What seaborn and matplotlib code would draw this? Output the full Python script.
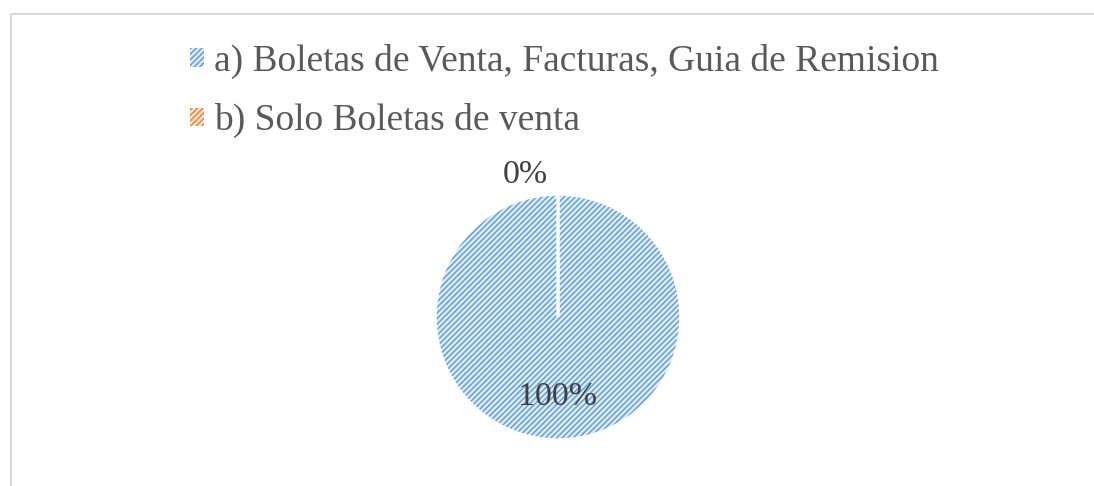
import seaborn as sns
import matplotlib.pyplot as plt
from matplotlib.patches import Patch, Rectangle

# data
labels = ['a) Boletas de Venta, Facturas, Guia de Remision', 'b) Solo Boletas de venta']
values = [100, 0]
edge_colors = ['#5B9BD5', '#ED7D31']
fill_colors = ['#DCE9F6', '#FBE0CF']

sns.set_theme(style='white')
plt.rcParams['font.family'] = ['Liberation Serif', 'DejaVu Serif']

fig = plt.figure(figsize=(10.94, 4.86), dpi=100)

# outer chart border (clipped on right / bottom like the screenshot)
fig.patches.append(Rectangle((11 / 1094, -0.1), 1.2, (486 - 14) / 486 + 0.1,
                             transform=fig.transFigure, fill=False,
                             edgecolor='#D9D9D9', linewidth=1.5))

# pie
cx, cy, r = 558, 317, 123
ax = fig.add_axes([(cx - r) / 1094, (486 - cy - r) / 486, 2 * r / 1094, 2 * r / 486])
wedges, texts, autotexts = ax.pie(values, colors=fill_colors, startangle=90, counterclock=False,
                                  autopct='%1.0f%%', pctdistance=0.65,
                                  wedgeprops=dict(linewidth=0, hatch='//////'),
                                  textprops=dict(fontsize=24.5, color='#404040'))
for w, ec in zip(wedges, edge_colors):
    w.set_edgecolor(ec)
# white separator edge
ax.pie(values, colors=['none', 'none'], startangle=90, counterclock=False,
       wedgeprops=dict(linewidth=2.5, edgecolor='white', fill=False))
ax.set_xlim(-1, 1)
ax.set_ylim(-1, 1)

# zero slice label sits outside, left of the top
autotexts[1].set_position((-0.08, 1.16))
autotexts[1].set_ha('right')

# legend
handles = [Patch(facecolor=fc, edgecolor=ec, hatch='//////', linewidth=0)
           for fc, ec in zip(fill_colors, edge_colors)]
fig.legend(handles, labels, loc='upper left', bbox_to_anchor=(190 / 1094, 1 - 44 / 486),
           frameon=False, fontsize=27, labelcolor='#595959', borderpad=0, borderaxespad=0,
           handlelength=0.37, handleheight=0.37, handletextpad=0.27, labelspacing=0.64)

fig.savefig('out.png', dpi=100)
